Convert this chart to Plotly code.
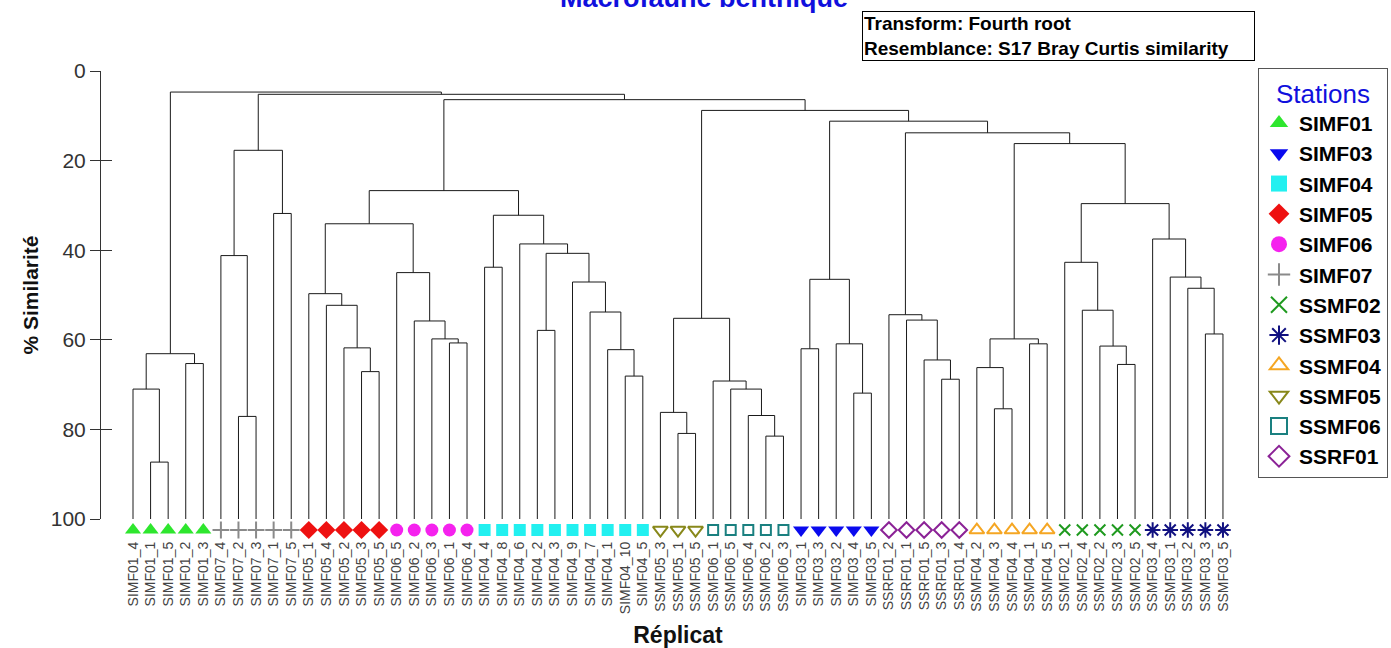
import plotly.graph_objects as go

# ---------------- data ----------------
leaf_labels = [
    "SIMF01_4", "SIMF01_1", "SIMF01_5", "SIMF01_2", "SIMF01_3",
    "SIMF07_4", "SIMF07_2", "SIMF07_3", "SIMF07_1", "SIMF07_5",
    "SIMF05_1", "SIMF05_4", "SIMF05_2", "SIMF05_3", "SIMF05_5",
    "SIMF06_5", "SIMF06_2", "SIMF06_3", "SIMF06_1", "SIMF06_4",
    "SIMF04_4", "SIMF04_8", "SIMF04_6", "SIMF04_2", "SIMF04_3",
    "SIMF04_9", "SIMF04_7", "SIMF04_1", "SIMF04_10", "SIMF04_5",
    "SSMF05_3", "SSMF05_1", "SSMF05_5",
    "SSMF06_1", "SSMF06_5", "SSMF06_4", "SSMF06_2", "SSMF06_3",
    "SIMF03_1", "SIMF03_3", "SIMF03_2", "SIMF03_4", "SIMF03_5",
    "SSRF01_2", "SSRF01_1", "SSRF01_5", "SSRF01_3", "SSRF01_4",
    "SSMF04_2", "SSMF04_3", "SSMF04_4", "SSMF04_1", "SSMF04_5",
    "SSMF02_1", "SSMF02_4", "SSMF02_2", "SSMF02_3", "SSMF02_5",
    "SSMF03_4", "SSMF03_1", "SSMF03_2", "SSMF03_3", "SSMF03_5",
]

# merges: cluster Ck is formed by merge k (1-based); similarity in %
merge_left = [
    "SIMF01_1", "SIMF01_4", "SIMF01_2", "C2",
    "SIMF07_2", "SIMF07_4", "SIMF07_1", "C6",
    "SIMF05_3", "SIMF05_2", "SIMF05_4", "SIMF05_1",
    "SIMF06_1", "SIMF06_3", "SIMF06_2", "SIMF06_5", "C12",
    "SIMF04_4", "SIMF04_2", "SIMF04_10", "SIMF04_1", "SIMF04_7", "SIMF04_9", "C19", "SIMF04_6", "C18", "C17",
    "SSMF05_1", "SSMF05_3",
    "SSMF06_2", "SSMF06_4", "SSMF06_5", "SSMF06_1", "C29",
    "SIMF03_1", "SIMF03_4", "SIMF03_2", "C35",
    "SSRF01_3", "SSRF01_5", "SSRF01_1", "SSRF01_2",
    "SSMF04_3", "SSMF04_2", "SSMF04_1", "C44",
    "SSMF02_3", "SSMF02_2", "SSMF02_4", "SSMF02_1",
    "SSMF03_3", "SSMF03_2", "SSMF03_1", "SSMF03_4",
    "C50", "C46", "C42", "C38", "C34", "C27", "C8", "C4",
]
merge_right = [
    "SIMF01_5", "C1", "SIMF01_3", "C3",
    "SIMF07_3", "C5", "SIMF07_5", "C7",
    "SIMF05_5", "C9", "C10", "C11",
    "SIMF06_4", "C13", "C14", "C15", "C16",
    "SIMF04_8", "SIMF04_3", "SIMF04_5", "C20", "C21", "C22", "C23", "C24", "C25", "C26",
    "SSMF05_5", "C28",
    "SSMF06_3", "C30", "C31", "C32", "C33",
    "SIMF03_3", "SIMF03_5", "C36", "C37",
    "SSRF01_4", "C39", "C40", "C41",
    "SSMF04_4", "C43", "SSMF04_5", "C45",
    "SSMF02_5", "C47", "C48", "C49",
    "SSMF03_5", "C51", "C52", "C53",
    "C54", "C55", "C56", "C57", "C58", "C59", "C60", "C61",
]
merge_similarity = [
    87.3, 71.0, 65.3, 63.1,
    77.1, 41.2, 31.8, 17.7,
    67.1, 61.8, 52.3, 49.7,
    60.7, 59.8, 55.8, 45.0, 34.1,
    43.8, 57.9, 68.1, 62.2, 53.8, 47.1, 40.7, 38.6, 32.2, 26.7,
    80.9, 76.2,
    81.5, 76.9, 71.0, 69.2, 55.2,
    62.0, 71.9, 60.9, 46.5,
    68.8, 64.5, 55.6, 54.4,
    75.4, 66.2, 60.9, 59.8,
    65.5, 61.4, 53.4, 42.7,
    58.7, 48.5, 46.0, 37.5,
    29.6, 16.2, 13.8, 11.2, 8.8, 6.4, 5.2, 4.7,
]

stations = ["SIMF01", "SIMF03", "SIMF04", "SIMF05", "SIMF06", "SIMF07",
            "SSMF02", "SSMF03", "SSMF04", "SSMF05", "SSMF06", "SSRF01"]

y_ticks = [0, 20, 40, 60, 80, 100]

# ---------------- styles ----------------
station_colors = ["#2ee62e", "#0a0aee", "#22f0f0", "#ee1111", "#f522ee", "#8a8a8a",
                  "#1f9a1f", "#101080", "#f5a623", "#88881a", "#1a8080", "#8b2296"]
station_symbols = ["triangle-up", "triangle-down", "square", "diamond", "circle", "cross-thin-open",
                   "x-thin-open", "asterisk-open", "triangle-up-open", "triangle-down-open",
                   "square-open", "diamond-open"]
station_sizes = [14, 14, 12, 14, 13, 12, 11, 13, 13, 13, 10, 12]
station_linew = [0, 0, 0, 0, 0, 2, 2, 2, 2, 2, 2, 2]
FONT = "Liberation Sans, Arial, sans-serif"
STRIP_Y = 0.42

# ---------------- dendrogram geometry ----------------
pos = {lab: float(i) for i, lab in enumerate(leaf_labels)}
hgt = {lab: 100.0 for lab in leaf_labels}
lx, ly = [], []
for k, (a, b, s) in enumerate(zip(merge_left, merge_right, merge_similarity)):
    lx += [pos[a], pos[a], pos[b], pos[b], None]
    ly += [hgt[a], s, s, hgt[b], None]
    name = "C%d" % (k + 1)
    pos[name] = (pos[a] + pos[b]) / 2
    hgt[name] = s

fig = go.Figure()
fig.add_trace(go.Scatter(x=lx, y=ly, mode="lines", line=dict(color="#1a1a1a", width=1),
                         showlegend=False, hoverinfo="skip"))
# carries the inward half of the y ticks
fig.add_trace(go.Scatter(x=[None], y=[None], yaxis="y2", showlegend=False, hoverinfo="skip"))

for st, col, sym, sz, lw in zip(stations, station_colors, station_symbols, station_sizes, station_linew):
    xs = [i for i, lab in enumerate(leaf_labels) if lab.split("_")[0] == st]
    # leaf symbols in a strip under the tree
    fig.add_trace(go.Scatter(
        x=xs, y=[STRIP_Y] * len(xs), yaxis="y3", mode="markers", name=st, legendgroup=st,
        showlegend=False, cliponaxis=False, hoverinfo="x+name",
        marker=dict(symbol=sym, size=sz, color=col, line=dict(color=col, width=lw)),
    ))
    # legend entry (bigger symbol)
    fig.add_trace(go.Scatter(
        x=[None], y=[None], yaxis="y3", mode="markers", name=st, legendgroup=st, showlegend=True,
        marker=dict(symbol=sym, size=18, color=col, line=dict(color=col, width=lw)),
    ))

# ---------------- layout ----------------
W, H = 1391, 648
L, R, T = 101, 136, 68
PB = 538                      # bottom of marker strip (px)
B = H - PB
pw, ph = W - L - R, PB - T
TREE_TOP, TREE_BOT = 71, 519  # px of 0 % and 100 %
px_per_leaf = 17.58
x0 = -(133 - L) / px_per_leaf
x1 = x0 + pw / px_per_leaf

def px_x(p):
    return (p - L) / pw

def px_y(p):
    return (PB - p) / ph

dom_tree = [px_y(TREE_BOT), px_y(TREE_TOP)]
dom_strip = [0, px_y(TREE_BOT)]

fig.update_layout(
    width=W, height=H, autosize=False,
    margin=dict(l=L, r=R, t=T, b=B, autoexpand=False),
    paper_bgcolor="white", plot_bgcolor="white",
    font=dict(family=FONT, color="#000"),
    xaxis=dict(range=[x0, x1], anchor="y3", automargin=False,
               tickmode="array", tickvals=list(range(len(leaf_labels))),
               ticktext=leaf_labels, tickangle=-90, tickfont=dict(size=14, color="#444"),
               ticks="", showline=False, showgrid=False, zeroline=False,
               title=dict(text="Réplicat", font=dict(size=23, weight="bold", color="#111"), standoff=17)),
    yaxis=dict(domain=dom_tree, range=[100, 0], anchor="x", automargin=False,
               tickmode="array", tickvals=y_ticks,
               ticks="outside", ticklen=10, tickcolor="#333", tickwidth=1,
               showline=True, linecolor="#333", linewidth=1,
               tickfont=dict(size=21, color="#333"),
               showgrid=False, zeroline=False,
               title=dict(text="% Similarité", font=dict(size=21, weight="bold", color="#111"), standoff=6)),
    yaxis2=dict(domain=dom_tree, range=[100, 0], overlaying="y", side="left", anchor="x",
                automargin=False, tickmode="array", tickvals=y_ticks,
                ticks="inside", ticklen=11, tickcolor="#333", tickwidth=1,
                showticklabels=False, showline=False, showgrid=False, zeroline=False),
    yaxis3=dict(domain=dom_strip, range=[0, 1], anchor="x", visible=False, fixedrange=True,
                automargin=False),
    legend=dict(x=px_x(1258), xanchor="left", y=1, yanchor="top",
                bordercolor="#555", borderwidth=1, bgcolor="white",
                font=dict(size=21, weight="bold", color="#000"),
                title=dict(text="Stations", side="top center", font=dict(size=26, color="#1010dd", weight="normal")),
                traceorder="normal", itemclick=False, itemdoubleclick=False),
    annotations=[
        dict(text="Macrofaune benthique", xref="paper", yref="paper", x=px_x(704), y=px_y(15),
             xanchor="center", yanchor="bottom", showarrow=False,
             font=dict(size=27, color="#1010dd", weight="bold")),
        dict(text="Transform: Fourth root<br>Resemblance: S17 Bray Curtis similarity",
             xref="paper", yref="paper", x=px_x(862), y=px_y(11), xanchor="left", yanchor="top",
             align="left", showarrow=False, width=389, borderpad=1,
             bordercolor="#000", borderwidth=1, bgcolor="white",
             font=dict(size=19, color="#000", weight="bold")),
    ],
)

fig.write_html("out.html")
